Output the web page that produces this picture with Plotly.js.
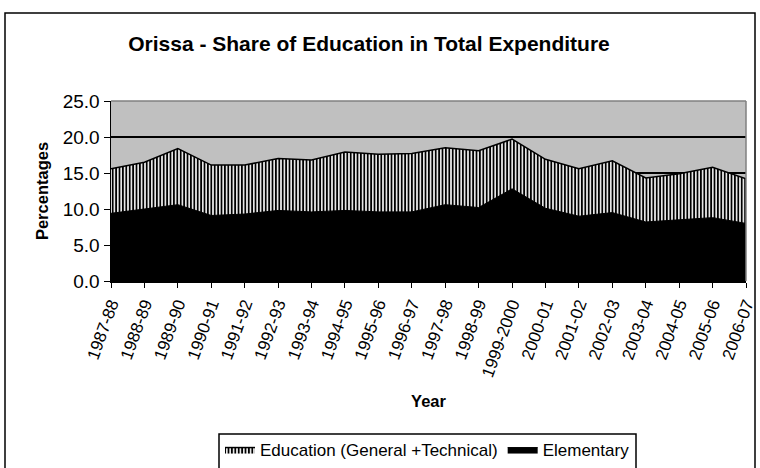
<!DOCTYPE html>
<html>
<head>
<meta charset="utf-8">
<script src="https://cdn.plot.ly/plotly-3.0.1.min.js"></script>
<style>
html,body{margin:0;padding:0;background:#fff;}
#chart{width:760px;height:468px;}
</style>
</head>
<body>
<div id="chart"></div>
<script>
const years = ["1987-88","1988-89","1989-90","1990-91","1991-92","1992-93","1993-94","1994-95","1995-96","1996-97","1997-98","1998-99","1999-2000","2000-01","2001-02","2002-03","2003-04","2004-05","2005-06","2006-07"];
const educationGT = [15.6,16.5,18.4,16.1,16.1,17.0,16.8,17.9,17.6,17.7,18.5,18.1,19.7,16.9,15.6,16.7,14.3,14.9,15.8,14.2];
const elementary = [9.4,10.0,10.6,9.1,9.3,9.8,9.6,9.8,9.6,9.6,10.6,10.2,12.8,10.1,9.0,9.5,8.2,8.5,8.8,8.0];
const yTicks = [0,5,10,15,20,25];
const yTickText = ["0.0","5.0","10.0","15.0","20.0","25.0"];

const FONT = "Liberation Sans, Arial, sans-serif";

const traces = [
  {
    x: years, y: educationGT, type: "scatter", mode: "lines",
    name: "Education (General +Technical)",
    fill: "tozeroy",
    fillpattern: {shape: "|", bgcolor: "#ffffff", fgcolor: "#000000", size: 3.4, solidity: 0.55},
    line: {color: "#000000", width: 1.5},
    hoverinfo: "skip"
  },
  {
    x: years, y: elementary, type: "scatter", mode: "lines",
    name: "Elementary",
    fill: "tozeroy",
    fillcolor: "#000000",
    line: {color: "#000000", width: 1},
    hoverinfo: "skip"
  }
];

const L = 111, R = 746, T = 101, B = 281;
const pw = R - L, ph = B - T;
function px(x){ return (x - L) / pw; }
function py(y){ return (B - y) / ph; }

const layout = {
  width: 760, height: 468,
  margin: {l: L, r: 760 - R, t: T, b: 468 - B, pad: 0, autoexpand: false},
  paper_bgcolor: "#ffffff",
  plot_bgcolor: "#c0c0c0",
  font: {family: FONT, color: "#000000", size: 17},
  showlegend: true,
  title: {
    text: "<b>Orissa - Share of Education in Total Expenditure</b>",
    font: {family: FONT, size: 21, color: "#000000"},
    xref: "container", yref: "container",
    x: 369 / 760, xanchor: "center",
    y: 1 - 44 / 468, yanchor: "middle"
  },
  xaxis: {
    type: "category",
    range: [0, years.length - 1],
    showgrid: false,
    showline: true, linecolor: "#000000", linewidth: 1.5,
    ticks: "outside", ticklen: 5, tickcolor: "#000000", tickwidth: 1,
    tickangle: -70,
    tickfont: {family: FONT, size: 17},
    title: {text: "<b>Year</b>", font: {family: FONT, size: 16.5}, standoff: 16},
    automargin: false,
    zeroline: false,
    mirror: false
  },
  yaxis: {
    range: [0, 25],
    tickvals: yTicks, ticktext: yTickText,
    showgrid: true, gridcolor: "#000000", gridwidth: 1.5,
    showline: true, linecolor: "#000000", linewidth: 1.5,
    ticks: "outside", ticklen: 6, tickcolor: "#000000", tickwidth: 1,
    tickfont: {family: FONT, size: 19},
    title: {text: "<b>Percentages</b>", font: {family: FONT, size: 16.5}, standoff: 10},
    automargin: false,
    zeroline: false
  },
  legend: {
    orientation: "h",
    xref: "container", yref: "container",
    x: 427.5 / 760, xanchor: "center",
    y: 1 - 432 / 468, yanchor: "top",
    bgcolor: "rgba(0,0,0,0)",
    borderwidth: 0,
    font: {family: FONT, size: 17},
    itemwidth: 30,
    tracegroupgap: 0
  },
  shapes: [
    {type: "rect", xref: "paper", yref: "paper",
     x0: px(5), x1: px(755), y0: py(475), y1: py(13),
     line: {color: "#000000", width: 1.5}, fillcolor: "rgba(0,0,0,0)", layer: "below"},
    {type: "rect", xref: "paper", yref: "paper",
     x0: px(219), x1: px(636), y0: py(475), y1: py(434),
     line: {color: "#000000", width: 1.5}, fillcolor: "rgba(0,0,0,0)", layer: "below"},
    {type: "line", xref: "paper", yref: "paper",
     x0: 0, x1: 1, y0: 1, y1: 1, line: {color: "#808080", width: 1.5}},
    {type: "line", xref: "paper", yref: "paper",
     x0: 1, x1: 1, y0: 0, y1: 1, line: {color: "#808080", width: 1.5}}
  ]
};

Plotly.newPlot("chart", traces, layout, {displayModeBar: false, staticPlot: true});
</script>
</body>
</html>
